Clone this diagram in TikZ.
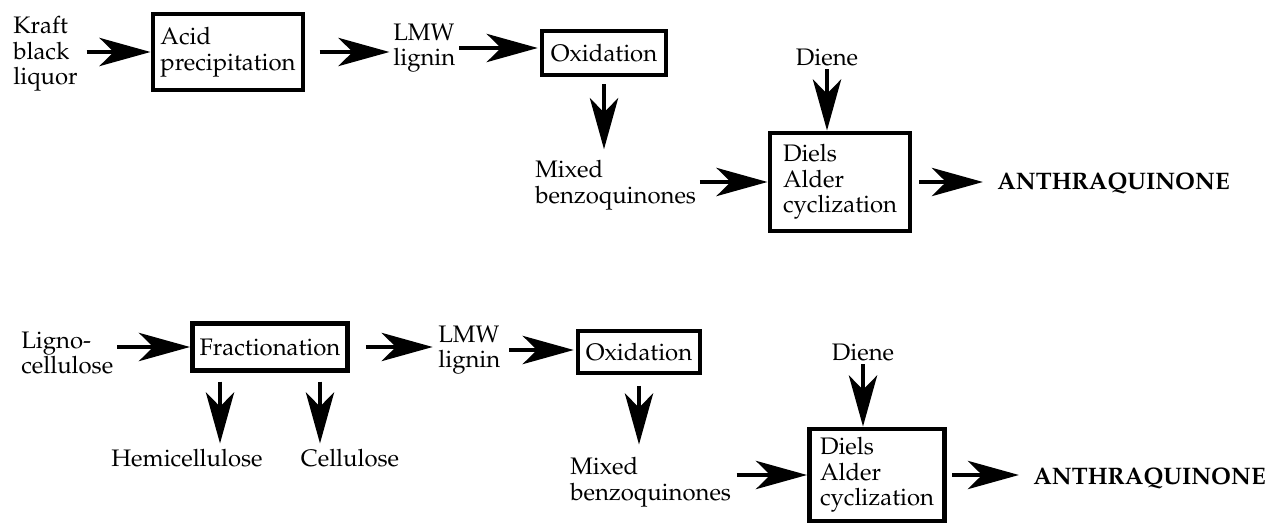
\documentclass[tikz,border=0pt]{standalone}
\usepackage[T1]{fontenc}
\usepackage{mathpazo}
\usepackage{tikz}
\usetikzlibrary{arrows.meta}

\tikzset{
  box/.style={draw,line width=2.8pt,align=left,inner sep=0pt},
  txt/.style={align=left,inner sep=0pt},
  prod/.style={txt,font=\fontsize{13.6}{14.6}\selectfont\bfseries},
  flow/.style={line width=2.8pt,-{Stealth[length=29pt,width=16pt,inset=8pt]}}
}

\begin{document}
\begin{tikzpicture}[x=0.02cm,y=-0.02cm,font=\fontsize{13.6}{14.6}\selectfont]
                      \useasboundingbox (0,0) rectangle (1267,526);
                      \node[txt,anchor=west](kraft)at(13,54){Kraft\\black\\liquor};
                      \node[box,minimum width=3cm,minimum height=1.52cm](acid)at(228,52){Acid\\precipitation};
                      \node[txt,anchor=west](lmw1)at(393,48){LMW\\lignin};
                      \node[box,minimum width=2.48cm,minimum height=0.88cm](ox1)at(604,53){Oxidation};
                      \node[txt](diene1)at(827,57){Diene};
                      \node[txt,anchor=west](mix1)at(535,185){Mixed\\benzoquinones};
                      \node[box,minimum width=2.8cm,minimum height=1.96cm](diels1)at(840,182){Diels\\Alder\\cyclization};
                      \node[prod,anchor=west](anth1)at(997,183){ANTHRAQUINONE};
                      \draw[flow,shorten <=5pt](kraft.east |- acid.west)--(acid.west);
                      \draw[flow,shorten <=8pt,shorten >=2pt](acid.east)--(acid.east -| lmw1.west);
                      \draw[flow,shorten <=2pt,shorten >=1pt](lmw1.east)--(lmw1.east -| ox1.west);
                      \draw[flow,shorten <=4pt,shorten >=6pt](ox1.south)--(ox1.south |- mix1.north);
                      \draw[flow,shorten <=2pt](diene1.south)--(diene1.south |- diels1.north);
                      \draw[flow,shorten <=2pt](mix1.east |- diels1.west)--(diels1.west);
                      \draw[flow,shorten <=4pt,shorten >=8pt](diels1.east)--(diels1.east -| anth1.west);
                      \node[txt,anchor=west](ligno)at(21,353){Ligno-\\cellulose};
                      \node[box,minimum width=3.1cm,minimum height=0.94cm](frac)at(270,347){Fractionation};
                      \node[txt,anchor=west](lmw2)at(438,350){LMW\\lignin};
                      \node[box,minimum width=2.44cm,minimum height=0.84cm](ox2)at(639,352){Oxidation};
                      \node[txt](diene2)at(863,352){Diene};
                      \node[txt](hemi)at(187,458){Hemicellulose};
                      \node[txt](cell)at(350,458){Cellulose};
                      \node[txt,anchor=west](mix2)at(570,482){Mixed\\benzoquinones};
                      \node[box,minimum width=2.7cm,minimum height=1.84cm](diels2)at(877,475){Diels\\Alder\\cyclization};
                      \node[prod,anchor=west](anth2)at(1033,478){ANTHRAQUINONE};
                      \draw[flow,shorten <=2pt](ligno.east |- frac.west)--(frac.west);
                      \draw[flow,shorten <=9pt,shorten >=3pt](frac.east)--(frac.east -| lmw2.west);
                      \draw[flow,shorten <=5pt,shorten >=1pt](lmw2.east)--(lmw2.east -| ox2.west);
                      \draw[flow,shorten <=6pt,shorten >=7pt](ox2.south)--(ox2.south |- mix2.north);
                      \draw[flow,shorten <=2pt](diene2.south)--(diene2.south |- diels2.north);
                      \draw[flow,shorten <=5pt,shorten >=3pt]([xshift=-1cm]frac.south)--([xshift=-1cm]frac.south |- hemi.north);
                      \draw[flow,shorten <=5pt,shorten >=3pt]([xshift=1cm]frac.south)--([xshift=1cm]frac.south |- cell.north);
                      \draw[flow,shorten <=3pt](mix2.east |- diels2.west)--(diels2.west);
                      \draw[flow,shorten <=3pt,shorten >=8pt](diels2.east)--(diels2.east -| anth2.west);
                  \end{tikzpicture}
\end{document}
